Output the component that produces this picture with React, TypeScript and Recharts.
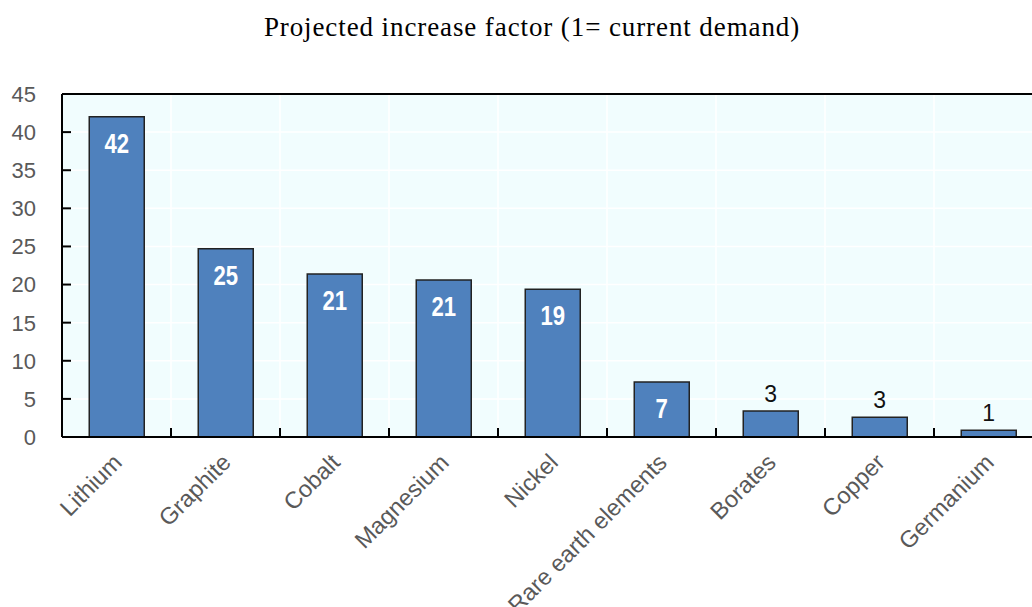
import React from "react"
import { BarChart, Bar, XAxis, YAxis, CartesianGrid, ReferenceLine, LabelList } from "recharts"

const categories = [
  "Lithium",
  "Graphite",
  "Cobalt",
  "Magnesium",
  "Nickel",
  "Rare earth elements",
  "Borates",
  "Copper",
  "Germanium",
]
const values = [42, 24.7, 21.4, 20.6, 19.4, 7.2, 3.4, 2.6, 0.9]
const yTicks = [0, 5, 10, 15, 20, 25, 30, 35, 40, 45]

const data = categories.map((name, i) => ({ name, value: values[i], label: Math.round(values[i]) }))

const FONT = "'Liberation Sans', Arial, sans-serif"
const GRAY = "#595959"
const Y_MARGIN = 26

function XTick({ x, y, payload, index, width, visibleTicksCount }: any) {
  const half = payload.offset || width / visibleTicksCount / 2
  const last = index === visibleTicksCount - 1
  return (
    <g>
      {!last && <line x1={x + half} x2={x + half} y1={y} y2={y - 9} stroke="#000" strokeWidth={2} />}
      <g transform={`translate(${x + 1},${y + 21}) rotate(-45)`}>
        <text x={0} y={0} dy="0.35em" textAnchor="end" fill={GRAY} fontSize={23.5} fontFamily={FONT}>
          {payload.value}
        </text>
      </g>
    </g>
  )
}

function YTick({ x, y, payload }: any) {
  const inner = payload.value > 0 && payload.value < 45
  return (
    <g>
      {inner && <line x1={x + Y_MARGIN} x2={x + Y_MARGIN + 9} y1={y} y2={y} stroke="#000" strokeWidth={2} />}
      <text x={x} y={y} dy="0.36em" textAnchor="end" fill={GRAY} fontSize={22} fontFamily={FONT}>
        {payload.value}
      </text>
    </g>
  )
}

function BarLabel({ x, y, width, value }: any) {
  const cx = x + width / 2
  if (value >= 5) {
    return (
      <g transform={`translate(${cx},${y + 36}) scale(0.82,1)`}>
        <text x={0} y={0} textAnchor="middle" fill="#fff" fontSize={27} fontWeight="bold" fontFamily={FONT}>
          {value}
        </text>
      </g>
    )
  }
  return (
    <text x={cx} y={y - 9} textAnchor="middle" fill="#111" fontSize={23} fontFamily={FONT}>
      {value}
    </text>
  )
}

export default function App() {
  return (
    <div style={{ position: "absolute", left: 0, top: 0, width: 1032, height: 607, overflow: "hidden", background: "#fff" }}>
      <div
        style={{
          position: "absolute",
          left: 0,
          top: 12,
          width: 1064,
          textAlign: "center",
          fontFamily: "'Liberation Serif', 'Times New Roman', serif",
          fontSize: 27,
          letterSpacing: 0.9,
          color: "#000",
        }}
      >
        Projected increase factor (1= current demand)
      </div>
      <BarChart
        width={1060}
        height={607}
        data={data}
        margin={{ top: 94, right: 17, left: 12, bottom: 0 }}
        barCategoryGap="25%"
      >
        <CartesianGrid
          stroke="#ffffff"
          strokeWidth={1.5}
          fill="#f1fdfe"
          fillOpacity={1}
          verticalCoordinatesGenerator={({ offset }: any) =>
            categories.slice(1).map((_, i) => offset.left + (offset.width * (i + 1)) / categories.length)
          }
        />
        <XAxis
          dataKey="name"
          interval={0}
          height={170}
          axisLine={{ stroke: "#000", strokeWidth: 2 }}
          tickLine={false}
          tickSize={0}
          tickMargin={0}
          tick={<XTick />}
        />
        <YAxis
          domain={[0, 45]}
          ticks={yTicks}
          width={50}
          interval={0}
          axisLine={{ stroke: "#000", strokeWidth: 2 }}
          tickLine={false}
          tickSize={0}
          tickMargin={Y_MARGIN}
          tick={<YTick />}
        />
        <ReferenceLine y={45} stroke="#000" strokeWidth={2} />
        <Bar
          dataKey="value"
          fill="#4f81bd"
          stroke="#222"
          strokeWidth={1.5}
          isAnimationActive={false}
        >
          <LabelList dataKey="label" content={<BarLabel />} />
        </Bar>
      </BarChart>
    </div>
  )
}
